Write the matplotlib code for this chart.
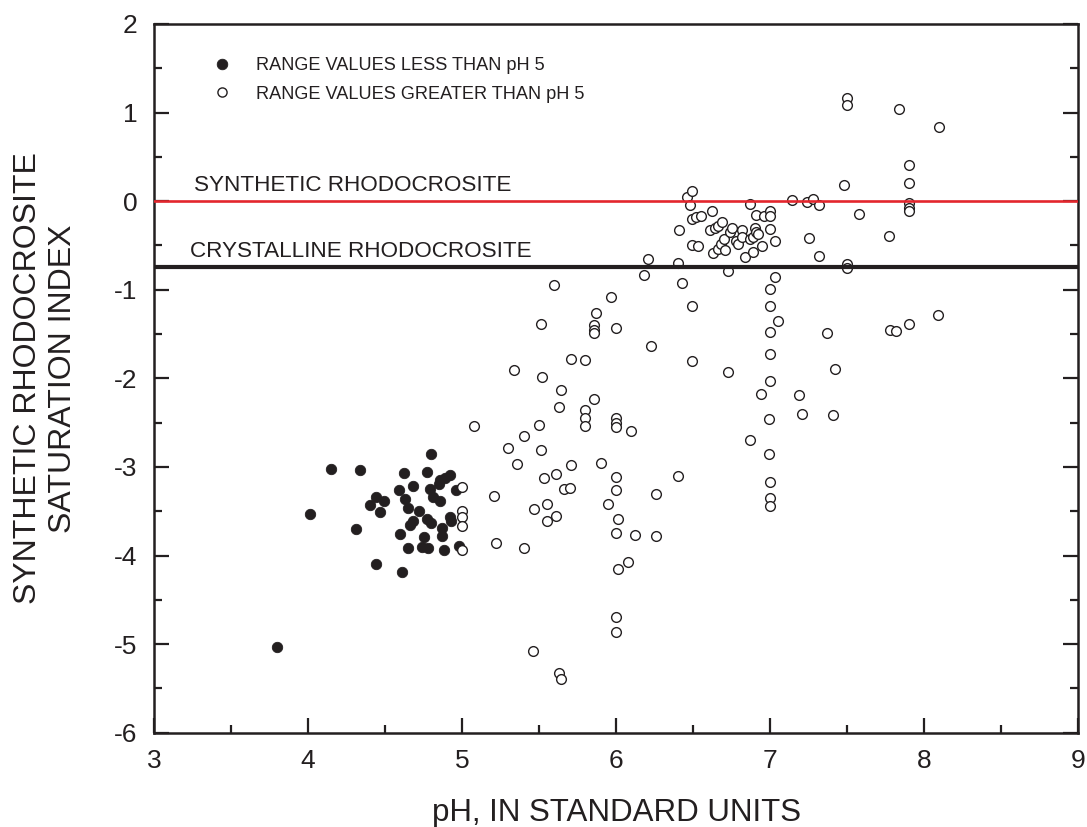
import matplotlib
matplotlib.use("Agg")
import matplotlib.pyplot as plt
from matplotlib.ticker import MultipleLocator
from matplotlib.lines import Line2D

plt.rcParams['font.family'] = ['Liberation Sans', 'DejaVu Sans']
plt.rcParams['axes.unicode_minus'] = False

INK = '#231f20'

# Samples with pH below 5
ph_low = [3.80, 4.01, 4.15, 4.31, 4.34, 4.40, 4.44, 4.44, 4.47, 4.49,
          4.59, 4.60, 4.61, 4.62, 4.63, 4.65, 4.65, 4.66, 4.68, 4.68,
          4.72, 4.74, 4.75, 4.77, 4.77, 4.78, 4.79, 4.80, 4.80, 4.81,
          4.85, 4.86, 4.86, 4.87, 4.87, 4.88, 4.89, 4.92, 4.92, 4.93,
          4.96, 4.98]
si_low = [-5.03, -3.53, -3.02, -3.70, -3.04, -3.43, -3.34, -4.09, -3.51, -3.39,
          -3.26, -3.76, -4.19, -3.07, -3.36, -3.46, -3.92, -3.65, -3.22, -3.61,
          -3.50, -3.90, -3.79, -3.06, -3.59, -3.91, -3.25, -2.85, -3.63, -3.34,
          -3.19, -3.15, -3.38, -3.69, -3.78, -3.94, -3.12, -3.09, -3.57, -3.61,
          -3.26, -3.89]

# Samples with pH of 5 and above
ph_high = [5.00, 5.00, 5.00, 5.00, 5.00, 5.08,
           5.21, 5.22, 5.30, 5.34, 5.36, 5.40, 5.40, 5.46, 5.47, 5.50,
           5.51, 5.51, 5.52, 5.53, 5.55, 5.55, 5.60, 5.61, 5.61, 5.63,
           5.63, 5.64, 5.64, 5.66, 5.70, 5.71, 5.71, 5.80, 5.80, 5.80,
           5.80, 5.86, 5.86, 5.86, 5.86, 5.87, 5.90, 5.95, 5.97,
           6.00, 6.00, 6.00, 6.00, 6.00, 6.00, 6.00, 6.00, 6.00, 6.01,
           6.01, 6.08, 6.10, 6.12,
           6.18, 6.21, 6.23, 6.26, 6.26, 6.40, 6.40, 6.41, 6.43, 6.46,
           6.48, 6.49, 6.49, 6.49, 6.49, 6.49, 6.52, 6.53, 6.55,
           6.61, 6.62, 6.63, 6.64, 6.66, 6.66, 6.68, 6.69, 6.70, 6.71,
           6.73, 6.73, 6.74, 6.75, 6.78, 6.79, 6.82, 6.82, 6.84, 6.87,
           6.87, 6.87, 6.89, 6.89, 6.90, 6.91, 6.91, 6.92, 6.94, 6.95,
           6.96, 6.99, 6.99,
           7.00, 7.00, 7.00, 7.03, 7.03, 7.00, 7.00, 7.05, 7.00, 7.00,
           7.00, 7.00, 7.00, 7.00,
           7.14, 7.19, 7.21, 7.24, 7.25, 7.28, 7.32, 7.32, 7.37, 7.41,
           7.42, 7.48, 7.50, 7.50, 7.50, 7.50, 7.58, 7.77, 7.78, 7.82,
           7.84, 7.90, 7.90, 7.90, 7.90, 7.90, 7.90, 8.09, 8.10]
si_high = [-3.23, -3.50, -3.56, -3.67, -3.94, -2.54,
           -3.33, -3.86, -2.79, -1.91, -2.97, -2.65, -3.92, -5.08, -3.48, -2.53,
           -1.39, -2.81, -1.99, -3.12, -3.42, -3.61, -0.95, -3.08, -3.55, -2.32,
           -5.33, -2.13, -5.39, -3.25, -3.24, -1.78, -2.98, -1.79, -2.36, -2.45,
           -2.54, -1.40, -1.45, -1.49, -2.23, -1.26, -2.96, -3.42, -1.08,
           -1.43, -2.45, -2.50, -2.55, -3.11, -3.26, -3.75, -4.69, -4.86, -3.59,
           -4.15, -4.07, -2.59, -3.77,
           -0.83, -0.65, -1.64, -3.31, -3.78, -0.70, -3.10, -0.32, -0.92, 0.05,
           -0.04, 0.11, -0.20, -0.50, -1.18, -1.80, -0.18, -0.51, -0.17,
           -0.33, -0.11, -0.58, -0.30, -0.28, -0.54, -0.48, -0.24, -0.43, -0.55,
           -0.79, -1.93, -0.35, -0.30, -0.45, -0.48, -0.33, -0.41, -0.63, -0.03,
           -0.43, -2.70, -0.41, -0.57, -0.30, -0.16, -0.35, -0.37, -2.18, -0.51,
           -0.17, -2.46, -2.85,
           -0.11, -0.17, -0.31, -0.45, -0.86, -0.99, -1.18, -1.35, -1.48, -1.73,
           -2.03, -3.17, -3.35, -3.44,
           0.01, -2.19, -2.40, -0.01, -0.42, 0.03, -0.04, -0.62, -1.49, -2.41,
           -1.89, 0.18, 1.16, 1.09, -0.71, -0.75, -0.14, -0.39, -1.45, -1.46,
           1.04, 0.41, 0.20, -0.02, -0.08, -0.11, -1.39, -1.29, 0.84]

# Reference saturation levels
synthetic_si = 0.0
crystalline_si = -0.74

legend_labels = ['RANGE VALUES LESS THAN pH 5', 'RANGE VALUES GREATER THAN pH 5']
x_ticks = [3, 4, 5, 6, 7, 8, 9]
y_ticks = [-6, -5, -4, -3, -2, -1, 0, 1, 2]

fig = plt.figure(figsize=(10.87, 8.27), dpi=100)
ax = fig.add_axes([0.1417, 0.1140, 0.8501, 0.8570])

ax.plot(ph_low, si_low, linestyle='none', marker='o', markersize=7.5,
        markerfacecolor=INK, markeredgecolor=INK, markeredgewidth=0.6, zorder=3)
ax.plot(ph_high, si_high, linestyle='none', marker='o', markersize=7.0,
        markerfacecolor='white', markeredgecolor=INK, markeredgewidth=1.0, zorder=3)

ax.axhline(synthetic_si, color='#e3262d', linewidth=1.9, zorder=4)
ax.axhline(crystalline_si, color=INK, linewidth=3.0, zorder=4)

ax.text(3.26, synthetic_si + 0.12, 'SYNTHETIC RHODOCROSITE', fontsize=16.2,
        color=INK, ha='left', va='baseline')
ax.text(3.235, crystalline_si + 0.11, 'CRYSTALLINE RHODOCROSITE', fontsize=16.2,
        color=INK, ha='left', va='baseline')

ax.set_xlim(3, 9)
ax.set_ylim(-6, 2)
ax.set_xticks(x_ticks)
ax.set_yticks(y_ticks)
ax.xaxis.set_minor_locator(MultipleLocator(0.5))
ax.yaxis.set_minor_locator(MultipleLocator(0.5))

for side in ['left', 'right', 'top', 'bottom']:
    ax.spines[side].set_linewidth(1.8)
    ax.spines[side].set_color(INK)

ax.tick_params(which='both', direction='in', colors=INK, top=False, right=True)
ax.tick_params(which='major', length=11, width=1.6, labelsize=19, pad=12)
ax.tick_params(which='minor', length=6, width=1.6)
ax.tick_params(axis='y', labelright=False)

ax.set_xlabel('pH, IN STANDARD UNITS', fontsize=22.5, color=INK)
ax.xaxis.set_label_coords(0.5, -0.113)
ax.xaxis.label.set_va('center')
ax.set_ylabel('SYNTHETIC RHODOCROSITE\nSATURATION INDEX', fontsize=23,
              color=INK, linespacing=1.2)
ax.yaxis.set_label_coords(-0.1174, 0.5)
ax.yaxis.label.set_va('center')

handles = [
    Line2D([], [], linestyle='none', marker='o', markersize=7.6,
           markerfacecolor=INK, markeredgecolor=INK, markeredgewidth=0.6),
    Line2D([], [], linestyle='none', marker='o', markersize=6.6,
           markerfacecolor='white', markeredgecolor=INK, markeredgewidth=1.0),
]
leg = ax.legend(handles, legend_labels, loc='upper left',
                bbox_to_anchor=(0.0636, 0.953), bbox_transform=ax.transAxes,
                frameon=False, fontsize=13.1, handlelength=1.0,
                handletextpad=1.4, labelspacing=0.62, borderpad=0,
                borderaxespad=0)
for t in leg.get_texts():
    t.set_color(INK)

fig.savefig('out.png', dpi=100, facecolor='white')
